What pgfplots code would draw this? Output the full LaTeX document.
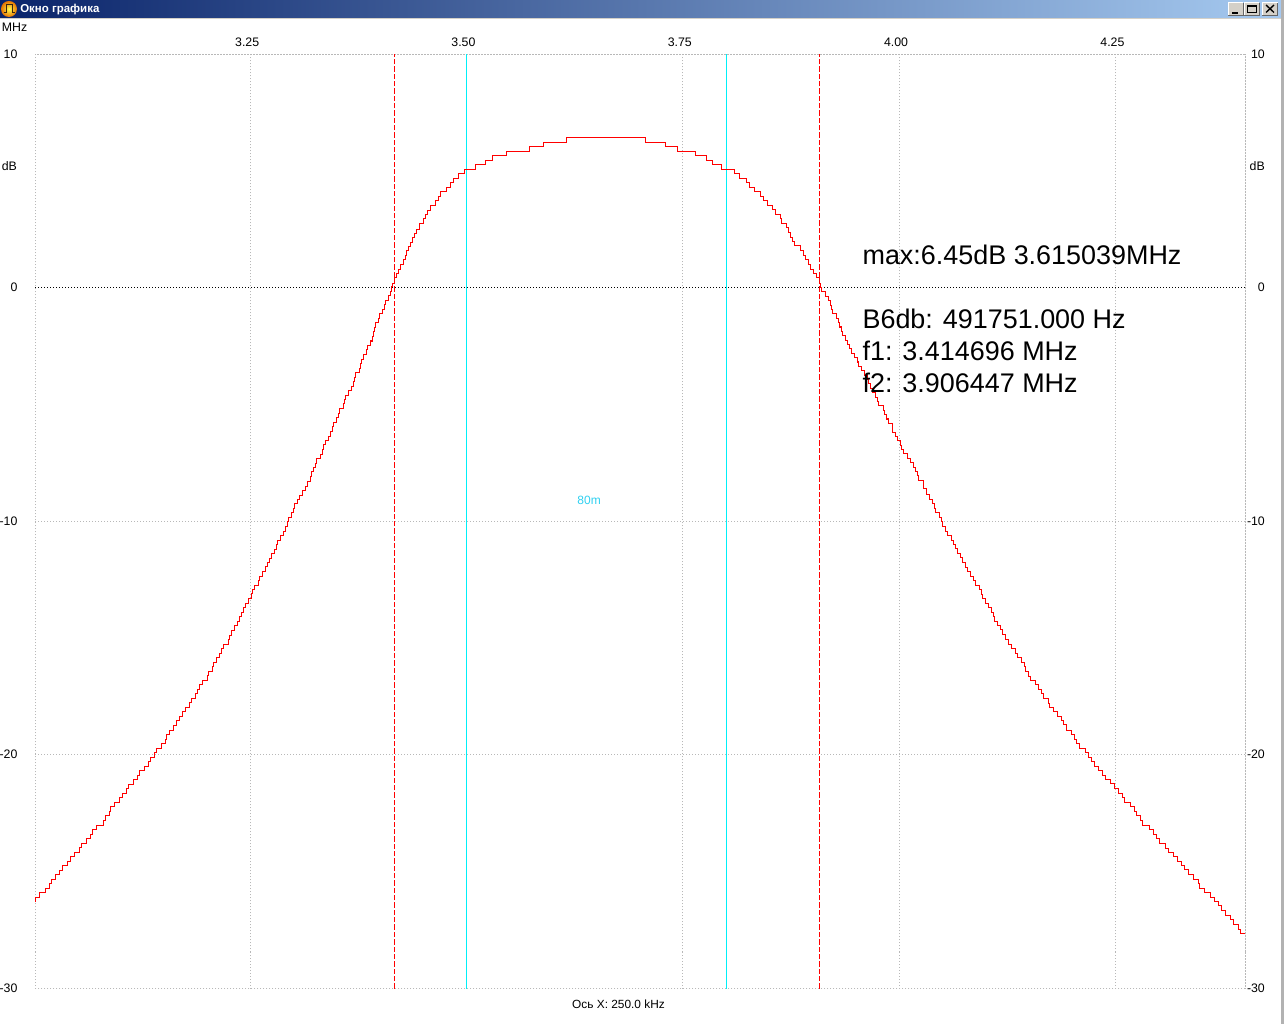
\documentclass[border=0pt]{standalone}
\usepackage{fontspec}
\setmainfont{Liberation Sans}
\usepackage{pgfplots}
\pgfplotsset{compat=1.18}

\definecolor{winnavy}{HTML}{0A246A}
\definecolor{winsky}{HTML}{A6CAF0}
\definecolor{winface}{HTML}{D4D0C8}
\definecolor{gridgray}{HTML}{B8B8B8}
\definecolor{bandcyan}{HTML}{00F0F8}
\definecolor{bandtext}{HTML}{30D0F0}

\pgfplotsset{
  frame/.style={
    scale only axis,
    width=907.5pt, height=700.5pt,
    at={(26.6pt,26.625pt)}, anchor=south west,
    xmin=3.0019, xmax=4.4003, ymin=-30, ymax=10,
    major tick length=0pt,
    clip=false,
    axis line style={gridgray, line width=.75pt, dash pattern=on .75pt off 1.5pt},
    tick label style={font=\fontsize{9.25pt}{11pt}\selectfont, inner sep=0pt, /pgf/number format/assume math mode=true},
    ytick={-30,-20,-10,0,10},
  },
}

\begin{document}
\begin{tikzpicture}
\useasboundingbox (0,0) rectangle (963pt,768pt);

\begin{axis}[frame,
  xtick={3.25,3.5,3.75,4,4.25},
  xticklabel pos=upper,
  x tick label style={anchor=base, xshift=-2.25pt, yshift=5.7pt,
    /pgf/number format/.cd, fixed, fixed zerofill, precision=2},
  y tick label style={anchor=east, xshift=-13.3pt, yshift=.3pt},
  grid=major,
  grid style={gridgray, line width=.75pt, dash pattern=on .75pt off 1.5pt},
]
% zero line
\addplot[black, line width=.75pt, dash pattern=on .75pt off 1.5pt] coordinates {(3.0019,0) (4.4003,0)};
% 80m band edges
\addplot[bandcyan, line width=.75pt] coordinates {(3.5,-30) (3.5,10)};
\addplot[bandcyan, line width=.75pt] coordinates {(3.8004,-30) (3.8004,10)};
% -6 dB markers
\addplot[red, line width=.75pt, dash pattern=on 4pt off 1.5pt] coordinates {(3.4168,-30) (3.4168,10)};
\addplot[red, line width=.75pt, dash pattern=on 4pt off 1.5pt] coordinates {(3.9080,-30) (3.9080,10)};
% response, read off the staircase
\addplot[const plot, red, line width=.8pt] coordinates {
(3.0019,-26.29) (3.0023,-26.10) (3.0070,-25.89) (3.0134,-25.72) (3.0181,-25.50) (3.0208,-25.33)
(3.0250,-25.12) (3.0296,-24.95) (3.0331,-24.73) (3.0389,-24.56) (3.0423,-24.35) (3.0469,-24.18)
(3.0527,-23.96) (3.0550,-23.79) (3.0608,-23.58) (3.0654,-23.41) (3.0678,-23.19) (3.0724,-23.02)
(3.0805,-22.81) (3.0828,-22.59) (3.0874,-22.42) (3.0886,-22.21) (3.0932,-22.03) (3.0990,-21.82)
(3.1024,-21.65) (3.1070,-21.44) (3.1094,-21.26) (3.1151,-21.05) (3.1198,-20.88) (3.1221,-20.66)
(3.1278,-20.49) (3.1325,-20.28) (3.1348,-20.11) (3.1394,-19.89) (3.1417,-19.72) (3.1475,-19.51)
(3.1521,-19.34) (3.1533,-19.12) (3.1567,-18.95) (3.1614,-18.74) (3.1648,-18.52) (3.1683,-18.35)
(3.1718,-18.14) (3.1752,-17.97) (3.1798,-17.75) (3.1822,-17.58) (3.1868,-17.37) (3.1891,-17.20)
(3.1914,-16.98) (3.1949,-16.81) (3.2007,-16.60) (3.2018,-16.42) (3.2064,-16.21) (3.2076,-16.04)
(3.2111,-15.82) (3.2145,-15.65) (3.2168,-15.44) (3.2191,-15.27) (3.2249,-15.05) (3.2261,-14.88)
(3.2284,-14.67) (3.2319,-14.45) (3.2353,-14.28) (3.2376,-14.07) (3.2399,-13.90) (3.2423,-13.68)
(3.2446,-13.51) (3.2480,-13.30) (3.2515,-13.08) (3.2527,-12.91) (3.2550,-12.74) (3.2596,-12.53)
(3.2607,-12.36) (3.2642,-12.14) (3.2677,-11.93) (3.2700,-11.76) (3.2723,-11.58) (3.2746,-11.37)
(3.2781,-11.20) (3.2804,-10.99) (3.2816,-10.81) (3.2850,-10.60) (3.2885,-10.43) (3.2908,-10.21)
(3.2931,-10.00) (3.2943,-9.83) (3.2977,-9.61) (3.3000,-9.44) (3.3012,-9.23) (3.3047,-9.06)
(3.3066,-8.87) (3.3101,-8.68) (3.3136,-8.49) (3.3165,-8.30) (3.3193,-8.09) (3.3208,-7.86)
(3.3232,-7.69) (3.3255,-7.52) (3.3266,-7.30) (3.3312,-7.13) (3.3336,-6.92) (3.3347,-6.72)
(3.3370,-6.53) (3.3405,-6.35) (3.3428,-6.15) (3.3451,-5.95) (3.3463,-5.76) (3.3497,-5.56)
(3.3520,-5.37) (3.3532,-5.16) (3.3578,-4.96) (3.3590,-4.78) (3.3601,-4.59) (3.3636,-4.39)
(3.3671,-4.21) (3.3694,-4.02) (3.3705,-3.82) (3.3717,-3.62) (3.3763,-3.43) (3.3775,-3.25)
(3.3786,-3.06) (3.3809,-2.84) (3.3844,-2.63) (3.3856,-2.45) (3.3890,-2.27) (3.3913,-2.06)
(3.3925,-1.88) (3.3933,-1.69) (3.3948,-1.49) (3.3983,-1.29) (3.3994,-1.09) (3.4029,-0.91)
(3.4052,-0.71) (3.4064,-0.52) (3.4098,-0.32) (3.4118,-0.14) (3.4133,0.06) (3.4141,0.21)
(3.4164,0.45) (3.4187,0.62) (3.4210,0.81) (3.4234,1.01) (3.4272,1.22) (3.4291,1.40)
(3.4306,1.61) (3.4329,1.78) (3.4349,1.96) (3.4376,2.16) (3.4399,2.33) (3.4418,2.52)
(3.4457,2.76) (3.4503,2.98) (3.4526,3.15) (3.4549,3.32) (3.4584,3.53) (3.4641,3.75)
(3.4676,3.92) (3.4699,4.13) (3.4769,4.30) (3.4815,4.52) (3.4850,4.69) (3.4907,4.90)
(3.4977,5.07) (3.5104,5.29) (3.5219,5.46) (3.5300,5.67) (3.5462,5.85) (3.5728,6.06)
(3.5890,6.23) (3.6156,6.45)
(3.7068,6.23) (3.7304,6.06) (3.7438,5.85) (3.7646,5.67) (3.7774,5.46) (3.7843,5.29)
(3.7947,5.07) (3.8097,4.90) (3.8155,4.69) (3.8236,4.52) (3.8270,4.30) (3.8328,4.13)
(3.8398,3.92) (3.8432,3.75) (3.8478,3.53) (3.8536,3.36) (3.8571,3.15) (3.8629,2.98)
(3.8640,2.76) (3.8698,2.59) (3.8721,2.39) (3.8744,2.16) (3.8764,1.98) (3.8791,1.80)
(3.8860,1.61) (3.8895,1.39) (3.8918,1.22) (3.8952,1.01) (3.8975,0.79) (3.9010,0.62)
(3.9045,0.45) (3.9079,0.19) (3.9091,0.03) (3.9099,-0.17) (3.9151,-0.35) (3.9180,-0.54)
(3.9203,-0.73) (3.9218,-0.92) (3.9232,-1.10) (3.9278,-1.29) (3.9296,-1.48) (3.9311,-1.67)
(3.9330,-1.86) (3.9348,-2.04) (3.9376,-2.23) (3.9405,-2.42) (3.9428,-2.61) (3.9446,-2.79)
(3.9480,-2.98) (3.9515,-3.17) (3.9535,-3.36) (3.9561,-3.54) (3.9596,-3.73) (3.9631,-3.92)
(3.9648,-4.11) (3.9665,-4.29) (3.9688,-4.48) (3.9723,-4.67) (3.9752,-4.86) (3.9764,-5.04)
(3.9816,-5.23) (3.9827,-5.42) (3.9850,-5.61) (3.9879,-5.79) (3.9920,-5.98) (3.9929,-6.17)
(3.9954,-6.36) (3.9983,-6.54) (4.0012,-6.73) (4.0029,-6.92) (4.0047,-7.10) (4.0099,-7.29)
(4.0128,-7.48) (4.0162,-7.67) (4.0191,-7.85) (4.0209,-8.04) (4.0226,-8.23) (4.0278,-8.42)
(4.0287,-8.60) (4.0313,-8.84) (4.0351,-9.06) (4.0385,-9.23) (4.0409,-9.44) (4.0420,-9.61)
(4.0466,-9.83) (4.0489,-10.00) (4.0501,-10.21) (4.0536,-10.43) (4.0555,-10.60) (4.0605,-10.81)
(4.0628,-10.99) (4.0651,-11.16) (4.0674,-11.37) (4.0709,-11.54) (4.0732,-11.76) (4.0767,-11.97)
(4.0790,-12.14) (4.0825,-12.36) (4.0859,-12.53) (4.0882,-12.74) (4.0929,-12.91) (4.0952,-13.13)
(4.0963,-13.30) (4.0998,-13.51) (4.1033,-13.68) (4.1067,-13.90) (4.1090,-14.07) (4.1102,-14.28)
(4.1137,-14.45) (4.1171,-14.63) (4.1194,-14.84) (4.1229,-15.05) (4.1264,-15.27) (4.1298,-15.44)
(4.1345,-15.65) (4.1368,-15.82) (4.1414,-16.04) (4.1449,-16.21) (4.1460,-16.42) (4.1495,-16.64)
(4.1518,-16.81) (4.1576,-16.98) (4.1610,-17.20) (4.1645,-17.37) (4.1668,-17.58) (4.1726,-17.79)
(4.1738,-17.97) (4.1784,-18.14) (4.1830,-18.35) (4.1876,-18.52) (4.1899,-18.71) (4.1934,-18.95)
(4.1992,-19.12) (4.2026,-19.34) (4.2050,-19.51) (4.2084,-19.72) (4.2154,-19.89) (4.2188,-20.11)
(4.2223,-20.28) (4.2258,-20.49) (4.2304,-20.66) (4.2350,-20.88) (4.2385,-21.05) (4.2443,-21.22)
(4.2489,-21.44) (4.2535,-21.65) (4.2581,-21.82) (4.2604,-22.03) (4.2674,-22.21) (4.2720,-22.42)
(4.2743,-22.59) (4.2789,-22.81) (4.2812,-23.02) (4.2893,-23.19) (4.2939,-23.41) (4.2974,-23.58)
(4.3009,-23.79) (4.3078,-24.00) (4.3113,-24.18) (4.3171,-24.35) (4.3217,-24.56) (4.3263,-24.73)
(4.3298,-24.90) (4.3344,-25.12) (4.3402,-25.33) (4.3459,-25.50) (4.3471,-25.72) (4.3529,-25.89)
(4.3598,-26.10) (4.3644,-26.27) (4.3691,-26.45) (4.3725,-26.66) (4.3772,-26.87) (4.3829,-27.04)
(4.3864,-27.26) (4.3922,-27.47) (4.3945,-27.65) (4.4003,-27.65)
};
\node[text=bandtext, font=\fontsize{9pt}{11pt}\selectfont] at (axis cs:3.6418,-9.09) {80m};
\end{axis}

% second copy of the scale on the right side
\begin{axis}[frame,
  axis x line=none,
  axis y line*=right,
  y tick label style={anchor=east, xshift=14.7pt, yshift=.3pt},
]
\end{axis}

% the rest is in screen pixels, y downwards
\begin{scope}[x=.75pt, y=-.75pt, yshift=768pt]
  % window chrome
  \shade[left color=winnavy, right color=winsky] (0,0) rectangle (1284,17.7);
  \fill[winface] (0,17.7) rectangle (1284,18.7);
  \fill[gray!60] (1281,0) rectangle (1284,1024);
  \shade[inner color=yellow!70!white, outer color=orange!90!black] (9,9) circle (8);
  \draw[black!70!brown, line width=.75pt] (3.5,13) -- (6,13) -- (6,5) -- (12,5) -- (12,13) -- (14.5,13);
  \node[anchor=base west, inner sep=0pt, text=white, font=\fontsize{8.6pt}{10pt}\selectfont\bfseries] at (20,13) {Окно графика};
  % window buttons
  \foreach \xa/\xb in {1228.3/1243.3, 1244.3/1259.3, 1262.3/1277.7} {
    \fill[winface] (\xa,2.7) rectangle (\xb,15.3);
    \draw[black!60, line width=.75pt] (\xa,15.3) -- (\xb,15.3) -- (\xb,2.7);
    \draw[white, line width=.75pt] (\xa,15.3) -- (\xa,2.7) -- (\xb,2.7);
  }
  \fill[black] (1232,12) rectangle (1238,13.6);
  \draw[black, line width=.75pt] (1247.5,5.5) rectangle (1256,12.7);
  \fill[black] (1247.5,5) rectangle (1256,6.6);
  \draw[black, line width=1pt] (1266,5) -- (1274,12.5) (1274,5) -- (1266,12.5);

  % small labels
  \begin{scope}[every node/.style={inner sep=0pt, font=\fontsize{9.25pt}{11pt}\selectfont}]
    \node[anchor=base west] at (1.7,31.7) {MHz};
    \node[anchor=base west] at (1.5,171) {dB};
    \node[anchor=base east] at (1265,171) {dB};
    \node[anchor=base, font=\fontsize{8.9pt}{11pt}\selectfont] at (618.5,1008.5) {Ось X: 250.0 kHz};
  \end{scope}

  % measurement read-out
  \begin{scope}[every node/.style={anchor=base west, inner sep=0pt, font=\fontsize{20.2pt}{24pt}\selectfont}]
    \node at (862.3,264.3) {max:6.45dB 3.615039MHz};
    \node at (862.3,328.3) {B6db: 491751.000 Hz};
    \node at (862.3,360.3) {f1: 3.414696 MHz};
    \node at (862.3,392.3) {f2: 3.906447 MHz};
  \end{scope}
\end{scope}
\end{tikzpicture}
\end{document}
